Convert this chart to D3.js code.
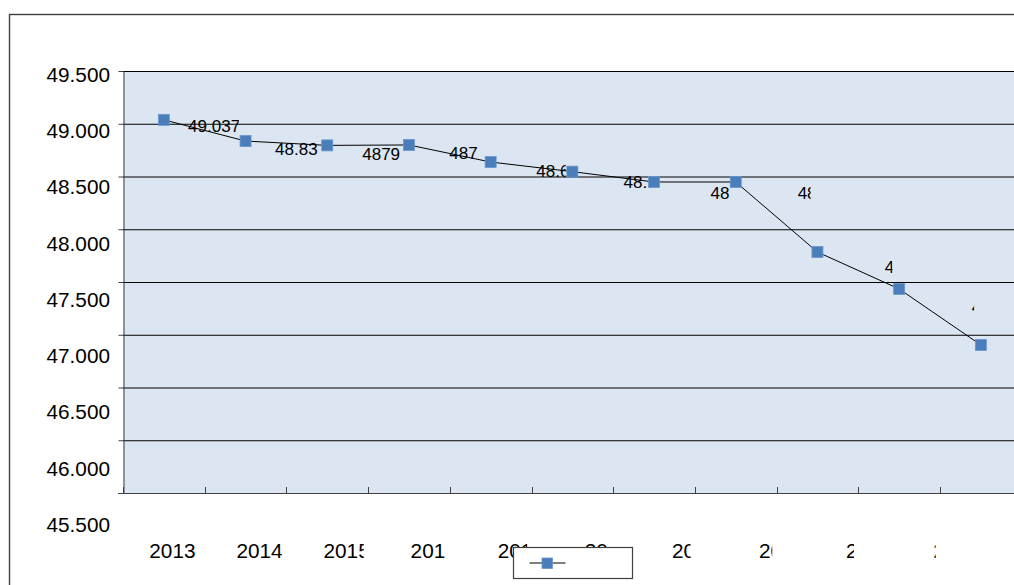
<!DOCTYPE html>
<html>
<head>
<meta charset="utf-8">
<script src="https://cdn.jsdelivr.net/npm/d3@7"></script>
<style>
  html, body { margin: 0; padding: 0; background: #fff; overflow: hidden; }
  svg { display: block; font-family: "Liberation Sans", Arial, sans-serif; }
</style>
</head>
<body>
<svg id="chart" width="1014" height="585"></svg>
<script>
// ---- data ----
const years = ["2013", "2014", "2015", "2016", "2017", "2018", "2019", "2020", "2021", "2022", "2023"];
const values = [49.037, 48.836, 48.795, 48.799, 48.637, 48.546, 48.448, 48.448, 47.784, 47.434, 46.903];
const pointLabels = ["49.037", "48.83", "4879", "487", "48.6", "48.", "48", "48", "4", "4", ""];
const yTickValues = [45.5, 46.0, 46.5, 47.0, 47.5, 48.0, 48.5, 49.0, 49.5];

// ---- layout ----
const W = 1014, H = 585;
const plot = { left: 123, top: 71, bottom: 493, step: 81.7 };
const textScale = 1.066;          // text is rendered slightly larger than the plot geometry
const tickFont = 19.5, labelFont = 16;
const xLabelRoom = 36.5;          // how far right of a category centre its label may reach

const svg = d3.select("#chart");
const defs = svg.append("defs");

const x = d3.scaleBand()
  .domain(years)
  .range([plot.left, plot.left + plot.step * years.length])
  .padding(0);
const y = d3.scaleLinear().domain([45.5, 49.5]).range([plot.bottom, plot.top]);
const cx = d => x(d) + x.bandwidth() / 2;
const fmt = d3.format(".3f");

// chart frame
svg.append("rect")
  .attr("x", 9.5).attr("y", 14.5)
  .attr("width", W).attr("height", H)
  .attr("fill", "#fff").attr("stroke", "#404040").attr("stroke-width", 1.4);

// plot area
svg.append("rect")
  .attr("x", plot.left).attr("y", plot.top)
  .attr("width", W - plot.left).attr("height", plot.bottom - plot.top)
  .attr("fill", "#dce6f2");

// horizontal gridlines
svg.append("g")
  .attr("transform", `translate(${plot.left},0)`)
  .call(d3.axisLeft(y).tickValues(yTickValues.filter(v => v > 45.5)).tickSize(-(W - plot.left)).tickFormat(""))
  .call(g => g.select(".domain").remove())
  .call(g => g.selectAll(".tick line").attr("stroke", "#000").attr("stroke-width", 1));

// y axis line and outer ticks
svg.append("g")
  .attr("transform", `translate(${plot.left + 0.5},0)`)
  .call(d3.axisLeft(y).tickValues(yTickValues).tickSizeInner(5).tickSizeOuter(0).tickFormat(""))
  .call(g => g.select(".domain").attr("stroke", "#404040"))
  .call(g => g.selectAll(".tick line").attr("stroke", "#404040"));

// x axis line and inward ticks at category boundaries
const xAxis = svg.append("g");
xAxis.append("line")
  .attr("x1", plot.left - 5).attr("x2", W)
  .attr("y1", plot.bottom + 0.5).attr("y2", plot.bottom + 0.5)
  .attr("stroke", "#404040").attr("stroke-width", 1.2);
xAxis.selectAll("line.tick")
  .data(years)
  .join("line")
  .attr("class", "tick")
  .attr("x1", d => Math.round(x(d)) + 0.5).attr("x2", d => Math.round(x(d)) + 0.5)
  .attr("y1", plot.bottom).attr("y2", plot.bottom - 6)
  .attr("stroke", "#404040");

// y tick labels
svg.append("g")
  .attr("transform", `scale(${textScale})`)
  .selectAll("text")
  .data(yTickValues)
  .join("text")
  .attr("x", 103.2)
  .attr("y", d => y(d))
  .attr("dy", "0.3em")
  .attr("text-anchor", "end")
  .attr("fill", "#000")
  .style("font-size", tickFont + "px")
  .text(d => fmt(d));

// x tick labels, each clipped to its category slot
defs.selectAll("clipPath.xc")
  .data(years)
  .join("clipPath")
  .attr("class", "xc")
  .attr("id", (d, i) => "xclip" + i)
  .append("rect")
  .attr("x", d => x(d)).attr("y", 500)
  .attr("width", x.bandwidth() / 2 + xLabelRoom).attr("height", 80);

const xLabels = svg.append("g")
  .selectAll("g")
  .data(years)
  .join("g")
  .attr("clip-path", (d, i) => `url(#xclip${i})`);
xLabels.append("text")
  .attr("transform", `scale(${textScale})`)
  .attr("x", d => cx(d) - 2.1)
  .attr("y", 516.5)
  .attr("dy", "0.36em")
  .attr("text-anchor", "middle")
  .attr("fill", "#000")
  .style("font-size", tickFont + "px")
  .text(d => d);
// a label with no room left inside its slot is dropped
xLabels.filter(function (d) {
  const start = this.querySelector("text").getBBox().x * textScale;
  return start >= cx(d) + xLabelRoom;
}).remove();

// series line
const series = years.map((yr, i) => ({ year: yr, value: values[i], label: pointLabels[i] }));
svg.append("path")
  .datum(series)
  .attr("fill", "none")
  .attr("stroke", "#000")
  .attr("stroke-width", 1)
  .attr("d", d3.line().x(d => cx(d.year)).y(d => y(d.value)));

// data labels, each clipped to its own box
const labelled = series.filter(d => d.label !== "");
defs.selectAll("clipPath.lc")
  .data(labelled)
  .join("clipPath")
  .attr("class", "lc")
  .attr("id", (d, i) => "lclip" + i)
  .append("rect")
  .attr("x", d => cx(d.year)).attr("y", plot.top)
  .attr("width", 75).attr("height", plot.bottom - plot.top + 40);

svg.append("g")
  .selectAll("g")
  .data(labelled)
  .join("g")
  .attr("clip-path", (d, i) => `url(#lclip${i})`)
  .append("text")
  .attr("transform", `scale(${textScale})`)
  .attr("x", d => cx(d.year) + 12.5)
  .attr("y", d => y(d.value) - 1.5)
  .attr("dy", "0.36em")
  .attr("fill", "#000")
  .style("font-size", labelFont + "px")
  .text(d => d.label);

// markers
const ms = 11;
svg.append("g")
  .selectAll("rect")
  .data(series)
  .join("rect")
  .attr("x", d => cx(d.year) - ms / 2)
  .attr("y", d => y(d.value) - ms / 2)
  .attr("width", ms).attr("height", ms)
  .attr("fill", "#4a7ebb")
  .attr("stroke", "#6a96cc").attr("stroke-width", 0.8);

// legend
const legend = svg.append("g").attr("transform", "translate(513.5,547.5)");
legend.append("rect")
  .attr("width", 119).attr("height", 31)
  .attr("fill", "#fff").attr("stroke", "#404040").attr("stroke-width", 1.2);
legend.append("line")
  .attr("x1", 16).attr("x2", 52).attr("y1", 15.5).attr("y2", 15.5)
  .attr("stroke", "#000");
legend.append("rect")
  .attr("x", 28.5).attr("y", 10.5).attr("width", 10.5).attr("height", 10.5)
  .attr("fill", "#4a7ebb").attr("stroke", "#6a96cc").attr("stroke-width", 0.8);
</script>
</body>
</html>
